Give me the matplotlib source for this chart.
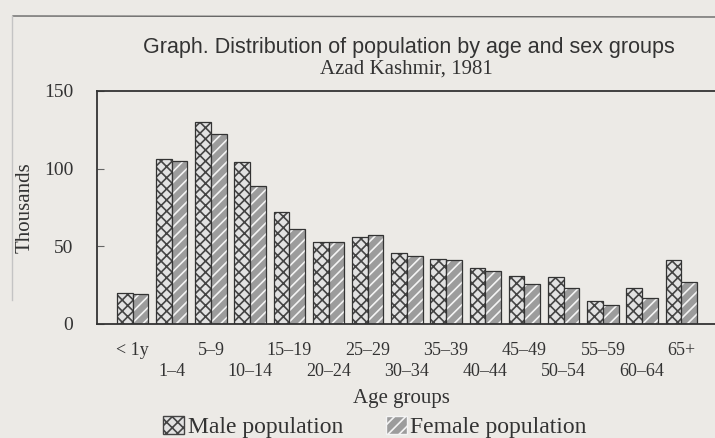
import numpy as np
import matplotlib.pyplot as plt
from matplotlib.patches import Patch
from matplotlib.lines import Line2D

age_groups = ["< 1y", "1\u20134", "5\u20139", "10\u201314", "15\u201319", "20\u201324",
              "25\u201329", "30\u201334", "35\u201339", "40\u201344", "45\u201349",
              "50\u201354", "55\u201359", "60\u201364", "65+"]
male = [20, 106, 130, 104, 72, 53, 56, 46, 42, 36, 31, 30, 15, 23, 41]
female = [19, 105, 122, 89, 61, 53, 57, 44, 41, 34, 26, 23, 12, 17, 27]

bg = "#eceae6"
ink = "#333333"
serif = "Liberation Serif"
plt.rcParams["hatch.linewidth"] = 1.2

fig = plt.figure(figsize=(7.15, 4.38), dpi=100, facecolor=bg)
ax = fig.add_axes([97 / 715, 1 - 324 / 438, 1 - 97 / 715, (324 - 91) / 438])
ax.set_facecolor(bg)

x = np.arange(len(age_groups))
w = 0.4
male_style = dict(facecolor="#e2e2e2", edgecolor="#444444", hatch="xxx")
female_style = dict(facecolor="#9c9c9c", edgecolor="#f4f4f4", hatch="///")
ax.bar(x - w / 2, male, w, linewidth=0, **male_style)
ax.bar(x - w / 2, male, w, facecolor="none", edgecolor=ink, linewidth=0.9)
ax.bar(x + w / 2, female, w, linewidth=0, **female_style)
ax.bar(x + w / 2, female, w, facecolor="none", edgecolor=ink, linewidth=0.9)

ax.set_xlim(-0.906, 14.86)
ax.set_ylim(0, 150)
ax.set_yticks([0, 50, 100, 150])
ax.set_yticklabels(["0", "50", "100", "150"], fontfamily=serif, fontsize=14, color=ink)
ax.tick_params(axis="y", direction="in", length=5, width=0.8, color="#666666", pad=17)
ax.tick_params(axis="x", length=0)
for s in ["left", "bottom", "top"]:
    ax.spines[s].set_color(ink)
    ax.spines[s].set_linewidth(1.3)
ax.spines["right"].set_visible(False)

# two staggered rows of age labels
ax.set_xticks([])
for i, lab in enumerate(age_groups):
    yrow = -0.112 if i % 2 == 0 else -0.206
    ax.text(i, yrow, lab, transform=ax.get_xaxis_transform(), ha="center", va="center",
            fontfamily=serif, fontsize=13, color=ink)

fig.text(25 / 715, 1 - 208 / 438, "Thousands", rotation=90, ha="center", va="center",
         fontfamily=serif, fontsize=15, color=ink)

fig.text(409 / 715, 1 - 47 / 438, "Graph. Distribution of population by age and sex groups",
         ha="center", va="center", fontfamily="Liberation Sans", fontsize=15.5, color=ink)
fig.text(406 / 715, 1 - 69 / 438, "Azad Kashmir, 1981",
         ha="center", va="center", fontfamily=serif, fontsize=15, color=ink)
fig.text(401 / 715, 1 - 398 / 438, "Age groups",
         ha="center", va="center", fontfamily=serif, fontsize=15, color=ink)

handles = [Patch(label="Male population", **male_style),
           Patch(label="Female population", **female_style)]
fig.legend(handles=handles, loc="center", bbox_to_anchor=(375 / 715, 1 - 427 / 438), ncol=2,
           frameon=False, prop={"family": serif, "size": 17}, handlelength=0.9,
           handleheight=0.8, handletextpad=0.15, columnspacing=1.8, labelcolor=ink,
           borderpad=0, borderaxespad=0)

# edges of the scanned page
fig.add_artist(Line2D([13 / 715, 1], [1 - 16 / 438, 1 - 17 / 438], color="#666666", lw=1.0))
fig.add_artist(Line2D([12 / 715, 12 / 715], [1 - 16 / 438, 1 - 300 / 438], color="#c4c4c4", lw=1.0))

fig.savefig("out.png", dpi=100, facecolor=bg)
